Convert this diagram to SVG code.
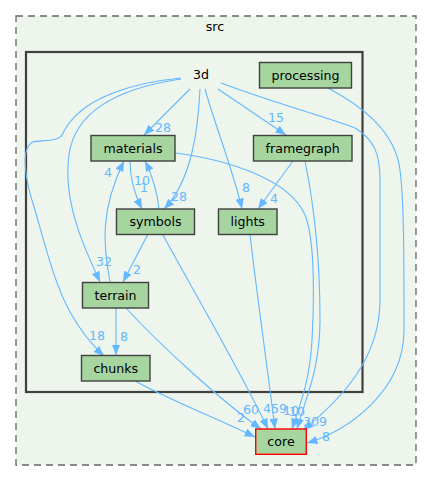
<svg xmlns="http://www.w3.org/2000/svg" width="432" height="481" viewBox="0 0 432 481">
<style>
text{font-family:"DejaVu Sans","Liberation Sans",sans-serif;font-size:12.6px;text-anchor:middle}
.nl{fill:#000}
.el{fill:#63b8ff}
.node{fill:#a6d5a0;stroke:#404040;stroke-width:1.4}
.e{fill:none;stroke:#63b8ff;stroke-width:1.1;marker-end:url(#ah)}
</style>
<defs>
<marker id="ah" viewBox="0 0 10 8" refX="10" refY="4" markerWidth="10.5" markerHeight="8.4" markerUnits="userSpaceOnUse" orient="auto">
<path d="M0,0 L10,4 L0,8 z" fill="#63b8ff"/>
</marker>
</defs>
<g id="cluster_src">
<rect x="16" y="16" width="400" height="449" fill="#edf5ec" stroke="#666" stroke-width="1.3" stroke-dasharray="7,5"/>
<text class="nl" x="215" y="31">src</text>
</g>
<g id="cluster_3d">
<rect x="26" y="52" width="336.5" height="340" fill="#edf5ec" stroke="#404040" stroke-width="2.2"/>
<text class="nl" x="201" y="79">3d</text>
</g>
<g id="edges">
<path class="e" d="M190,89 L144,135"/>
<text class="el" x="163" y="132">28</text>
<path class="e" d="M218,89 L286,135"/>
<text class="el" x="276" y="122">15</text>
<path class="e" d="M200,89 C198,130 192,180 164,209"/>
<text class="el" x="179" y="201">28</text>
<path class="e" d="M205,89 C215,125 233,170 242,209"/>
<text class="el" x="246" y="192">8</text>
<path class="e" d="M181,79 C120,88 75,110 69,155 C62,205 88,255 100,282"/>
<text class="el" x="104" y="266">32</text>
<path class="e" d="M181,78 C140,82 80,95 62,135 C58,142 40,140 33,142 C20,148 25,180 35,210 C45,245 55,285 70,312 C80,330 92,345 104,356"/>
<text class="el" x="97" y="340">18</text>
<path class="e" d="M221,83 C280,105 330,118 355,128 C375,140 380,155 380,180 L380,300 C380,360 340,400 303,430"/>
<text class="el" x="315" y="426">309</text>
<path class="e" d="M328,88 C360,105 395,130 400,170 C404,200 404,260 404,330 C404,390 350,430 307,443"/>
<text class="el" x="326" y="441">8</text>
<path class="e" d="M175,153 C230,160 290,180 305,215 C315,240 314,300 312,340 C310,380 300,405 292,429"/>
<text class="el" x="291" y="415">10</text>
<path class="e" d="M305,161 C315,210 320,260 320,320 C320,370 305,400 297,429"/>
<text class="el" x="297" y="416">10</text>
<path class="e" d="M250,234 C255,280 265,350 275,429"/>
<text class="el" x="283" y="413">9</text>
<path class="e" d="M163,235 C190,285 240,370 268,429"/>
<text class="el" x="271" y="413">45</text>
<path class="e" d="M126,308 C160,345 220,400 261,429"/>
<text class="el" x="251" y="414">60</text>
<path class="e" d="M135,381 C170,400 220,420 255,437"/>
<text class="el" x="241" y="422">2</text>
<path class="e" d="M130,161 C130,180 135,195 142,209"/>
<text class="el" x="144" y="192">1</text>
<path class="e" d="M159,209 C157,190 152,175 145,161"/>
<text class="el" x="142" y="185">10</text>
<path class="e" d="M110,282 C103,245 100,210 124,161"/>
<text class="el" x="108" y="177">4</text>
<path class="e" d="M148,234 L123,282"/>
<text class="el" x="137" y="274">2</text>
<path class="e" d="M116,308 L116,355"/>
<text class="el" x="124" y="341">8</text>
<path class="e" d="M293,161 L258,209"/>
<text class="el" x="274" y="203">4</text>
</g>
<g id="node_processing">
<rect class="node" x="259.5" y="62.5" width="92" height="25.5"/>
<text class="nl" x="305.5" y="79.5">processing</text>
</g>
<g id="node_materials">
<rect class="node" x="91" y="135.5" width="84" height="25.5"/>
<text class="nl" x="133" y="152.5">materials</text>
</g>
<g id="node_framegraph">
<rect class="node" x="253.5" y="135.5" width="98.5" height="25.5"/>
<text class="nl" x="302.7" y="152.5">framegraph</text>
</g>
<g id="node_symbols">
<rect class="node" x="116.5" y="209" width="78" height="25.5"/>
<text class="nl" x="155.5" y="226">symbols</text>
</g>
<g id="node_lights">
<rect class="node" x="218.5" y="209" width="58.5" height="25.5"/>
<text class="nl" x="247.7" y="226">lights</text>
</g>
<g id="node_terrain">
<rect class="node" x="82.5" y="282.5" width="66" height="25.5"/>
<text class="nl" x="115.5" y="299.5">terrain</text>
</g>
<g id="node_chunks">
<rect class="node" x="81.5" y="355.5" width="68.5" height="25.5"/>
<text class="nl" x="115.8" y="372.5">chunks</text>
</g>
<g id="node_core">
<rect x="255.7" y="429" width="50.6" height="25.3" fill="#a6d5a0" stroke="#ff0000" stroke-width="1.4"/>
<text class="nl" x="281" y="446">core</text>
</g>
</svg>
